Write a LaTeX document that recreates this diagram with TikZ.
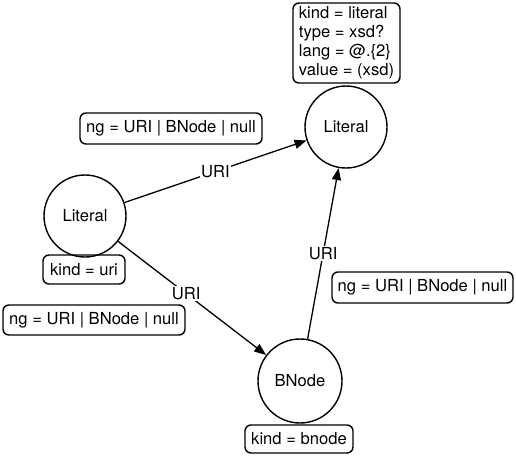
\documentclass[tikz,border=0pt]{standalone}
\usepackage{fontspec}
\setmainfont{TeX Gyre Heros}
\usetikzlibrary{arrows.meta}
\begin{document}
\begin{tikzpicture}[x=1pt,y=-1pt,
  every node/.style={font=\fontsize{16.6}{19}\selectfont},
  circ/.style={draw,circle,line width=1.4pt,minimum size=82pt,inner sep=0pt},
  tag/.style={draw,rounded corners=6pt,line width=1.4pt,inner sep=2pt,minimum height=30pt},
  conn/.style={line width=1.3pt,-{Triangle[length=12pt,width=9pt]}},
  elab/.style={fill=white,inner sep=1.5pt}]
\useasboundingbox (0,0) rectangle (516,455);
\node[circ] (lit1) at (85,216) {Literal};
\node[circ] (lit2) at (346,127) {Literal};
\node[circ,minimum size=84pt] (bn) at (300,381) {BNode};
\node[tag,align=left,minimum width=107pt,minimum height=80pt,inner sep=2pt] (t1) at (346.5,43) {kind = literal\\type = xsd?\\lang = @.\{2\}\\value = (xsd)};
\node[tag,minimum width=182pt,minimum height=31pt] (t2) at (171,128.5) {ng = URI | BNode | null};
\node[tag,minimum width=82pt,minimum height=29pt] (t3) at (84,269.5) {kind = uri};
\node[tag,minimum width=182pt] (t4) at (94,320) {ng = URI | BNode | null};
\node[tag,minimum width=181pt,minimum height=31pt] (t5) at (422.5,287.5) {ng = URI | BNode | null};
\node[tag,minimum width=108pt,minimum height=28pt] (t6) at (299,439) {kind = bnode};
\draw[conn] (lit1) -- node[elab,pos=0.5] {URI} (lit2);
\draw[conn] (lit1) -- node[elab,pos=0.46] {URI} (bn);
\draw[conn] (bn) -- node[elab,pos=0.5] {URI} (lit2);
\end{tikzpicture}
\end{document}
